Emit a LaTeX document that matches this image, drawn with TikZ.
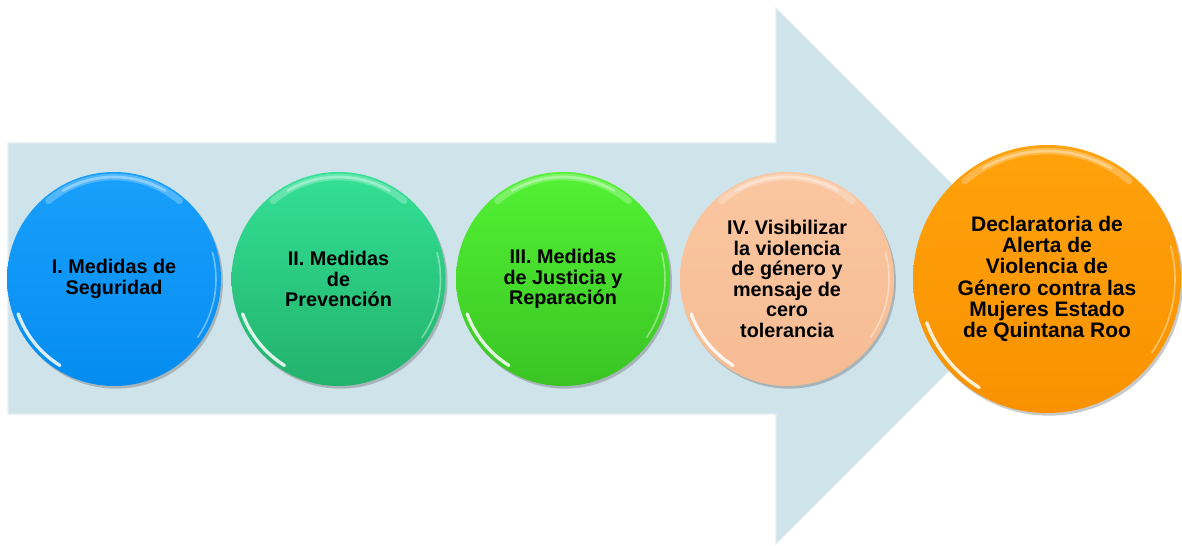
\documentclass[tikz,border=0pt]{standalone}
\usepackage{fontspec}
\setmainfont{Liberation Sans}
\usetikzlibrary{shadows,calc}
\definecolor{arrowc}{RGB}{207,227,234}
\definecolor{arrowedge}{RGB}{228,238,242}
\definecolor{blueT}{RGB}{25,160,252}
\definecolor{blueB}{RGB}{5,140,240}
\definecolor{grnT}{RGB}{52,224,150}
\definecolor{grnB}{RGB}{34,178,108}
\definecolor{limT}{RGB}{82,242,52}
\definecolor{limB}{RGB}{58,196,36}
\definecolor{pchT}{RGB}{250,198,160}
\definecolor{pchB}{RGB}{246,188,148}
\definecolor{orgT}{RGB}{255,162,12}
\definecolor{orgB}{RGB}{250,146,0}
\tikzset{
  ball/.style={circle, inner sep=0pt, align=center, text=black,
    minimum size=160.5pt,
    font=\bfseries\fontsize{14.85}{15.4}\selectfont,
    drop shadow={shadow xshift=1.5pt, shadow yshift=-2pt, opacity=0.3, fill=black!70}},
  bigball/.style={ball, minimum size=201pt,
    font=\bfseries\fontsize{15.75}{16}\selectfont},
  glowtop/.style={white, opacity=0.25, line width=5pt, line cap=round},
  glowtopin/.style={white, opacity=0.35, line width=2pt, line cap=round},
  glowlow/.style={white, opacity=0.85, line width=2.5pt, line cap=round}
}
\begin{document}
\begin{tikzpicture}[x=0.75pt,y=0.75pt]
\useasboundingbox (0,0) rectangle (1182,546);
% big arrow
\draw[fill=arrowc, draw=arrowedge, line width=1pt]
  (8,403) -- (776,403) -- (776,538) -- (1044,270) -- (776,2) -- (776,132) -- (8,132) -- cycle;
% circles
\node[ball, top color=blueT, bottom color=blueB] (c1) at (114,267) {I. Medidas de\\Seguridad};
\node[ball, top color=grnT, bottom color=grnB] (c2) at (338.5,267) {II. Medidas\\de\\Prevención};
\node[ball, top color=limT, bottom color=limB] (c3) at (563,267) {III. Medidas\\de Justicia y\\Reparación};
\node[ball, top color=pchT, bottom color=pchB] (c4) at (787,267) {IV. Visibilizar\\la violencia\\de género y\\mensaje de\\cero\\tolerancia};
\node[bigball, top color=orgT, bottom color=orgB] (c5) at (1047,267) {Declaratoria de\\Alerta de\\Violencia de\\Género contra las\\Mujeres Estado\\de Quintana Roo};
% glossy highlights
\foreach \n/\r in {c1/102,c2/102,c3/102,c4/102,c5/128}{
  \draw[glowtop] ($(\n.center)+(50:\r)$) arc[start angle=50, end angle=130, radius=\r];
  \draw[glowtopin] ($(\n.center)+(60:\r)$) arc[start angle=60, end angle=120, radius=\r];
  \draw[glowlow] ($(\n.center)+(200:\r)$) arc[start angle=200, end angle=238, radius=\r];
  \draw[white, opacity=0.4, line width=1.2pt, line cap=round] ($(\n.center)+(-35:\r)$) arc[start angle=-35, end angle=15, radius=\r];
}
\end{tikzpicture}
\end{document}
